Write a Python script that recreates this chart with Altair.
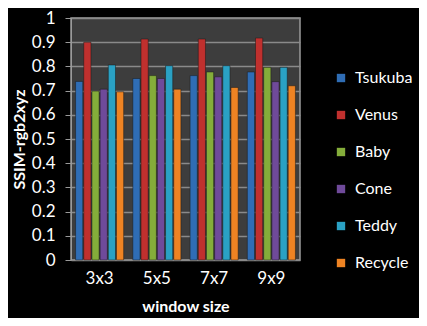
import altair as alt
import pandas as pd

categories = ["3x3", "5x5", "7x7", "9x9"]
series = ["Tsukuba", "Venus", "Baby", "Cone", "Teddy", "Recycle"]
values = {
    "Tsukuba": [0.738, 0.750, 0.762, 0.777],
    "Venus":   [0.900, 0.913, 0.913, 0.917],
    "Baby":    [0.698, 0.762, 0.777, 0.796],
    "Cone":    [0.706, 0.750, 0.757, 0.737],
    "Teddy":   [0.806, 0.803, 0.803, 0.796],
    "Recycle": [0.695, 0.706, 0.713, 0.720],
}
y_ticks = [0, 0.1, 0.2, 0.3, 0.4, 0.5, 0.6, 0.7, 0.8, 0.9, 1]
colors = ["#2f6db5", "#c0302e", "#84ad3a", "#6f4a9a", "#2aa1c4", "#ee8323"]

rows = []
for s in series:
    for c, v in zip(categories, values[s]):
        rows.append({"window size": c, "series": s, "value": v})
df = pd.DataFrame(rows)

FONT = "Lato"

chart = alt.Chart(df).mark_bar(stroke="#1a1a1a", strokeWidth=0.5).encode(
    x=alt.X("window size:N", sort=categories,
            scale=alt.Scale(paddingInner=0.16, paddingOuter=0.08),
            axis=alt.Axis(title="window size", labelAngle=0, ticks=False, domain=False,
                          labelPadding=10, titlePadding=12)),
    xOffset=alt.XOffset("series:N", sort=series, scale=alt.Scale(paddingInner=0.12)),
    y=alt.Y("value:Q", scale=alt.Scale(domain=[0, 1], nice=False),
            axis=alt.Axis(title="SSIM-rgb2xyz", format=".1~f", values=y_ticks,
                          labelOverlap=False, titlePadding=4, labelPadding=10,
                          tickSize=6)),
    color=alt.Color("series:N", sort=series,
                    scale=alt.Scale(domain=series, range=colors),
                    legend=alt.Legend(title=None, symbolType="square", symbolSize=70,
                                      symbolStrokeWidth=0, labelFontSize=16,
                                      labelColor="white", labelFont=FONT,
                                      rowPadding=21, orient="none",
                                      legendX=262, legendY=52, labelOffset=6)),
).properties(
    width=229, height=242,
    background="black",
    autosize=alt.AutoSizeParams(type="none"),
    padding={"left": 63, "top": 10, "right": 119, "bottom": 58},
).configure_view(
    fill="#3d3d3d", stroke="#9a9a9a", strokeWidth=1.5
).configure_axis(
    labelColor="white", titleColor="white", labelFont=FONT, titleFont=FONT,
    labelFontSize=17, titleFontSize=16, titleFontWeight="bold",
    gridColor="#8a8a8a", gridWidth=1.5, domainColor="#9a9a9a", tickColor="#9a9a9a",
).configure_axisX(grid=False)

chart.save("out.html", embed_options={"renderer": "svg", "actions": False})
